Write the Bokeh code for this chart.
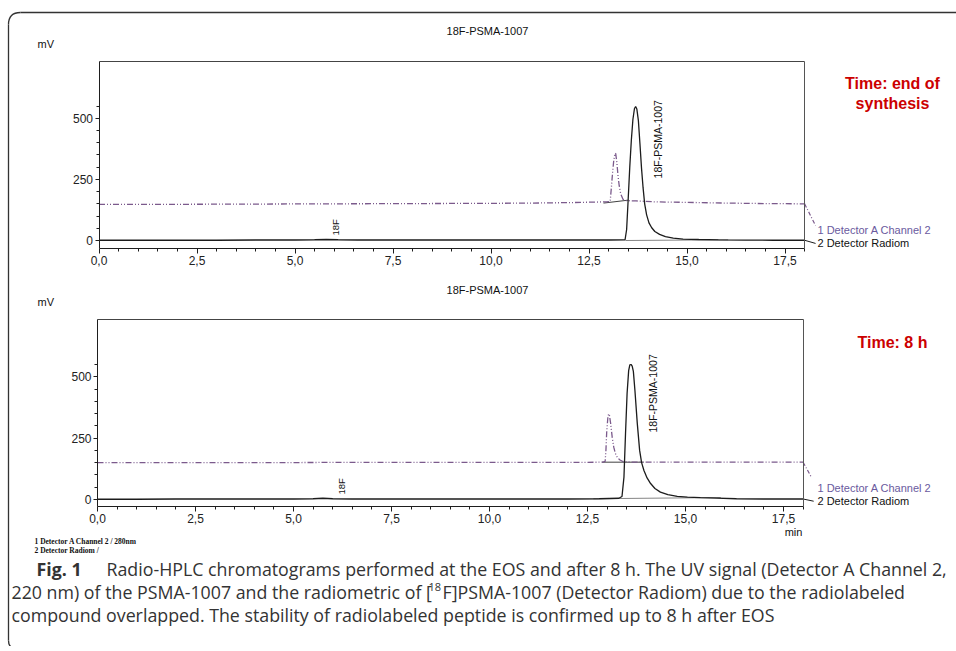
import math
from bokeh.plotting import figure
from bokeh.models import Range1d, LinearAxis, FixedTicker, Label
from bokeh.embed import file_html
from bokeh.resources import INLINE

# ---------------- data ----------------
x_ticks = [0.0, 2.5, 5.0, 7.5, 10.0, 12.5, 15.0, 17.5]
x_tick_labels = ["0,0", "2,5", "5,0", "7,5", "10,0", "12,5", "15,0", "17,5"]
x_minor_ticks = [0.5, 1.0, 1.5, 2.0, 3.0, 3.5, 4.0, 4.5, 5.5, 6.0, 6.5, 7.0, 8.0, 8.5,
                 9.0, 9.5, 10.5, 11.0, 11.5, 12.0, 13.0, 13.5, 14.0, 14.5, 15.5, 16.0,
                 16.5, 17.0, 18.0]
y_ticks = [0, 250, 500]
y_tick_labels = ["0", "250", "500"]
y_minor_ticks = [50, 100, 150, 200, 300, 350, 400, 450, 550]

# Panel A - end of synthesis: radiometric detector (black)
eos_rad_t = [0.0, 1.0, 2.0, 3.0, 4.0, 5.0, 5.5, 5.8, 6.1, 6.6, 8.0, 10.0, 12.0, 13.0,
             13.42, 13.46, 13.50, 13.54, 13.58, 13.62, 13.66, 13.69, 13.72, 13.76,
             13.80, 13.84, 13.88, 13.92, 13.97, 14.03, 14.10, 14.18, 14.30, 14.45,
             14.65, 14.90, 15.30, 15.80, 16.50, 17.20, 18.0]
eos_rad_v = [1, 1, 1, 1, 2, 2, 3, 4, 3, 2, 2, 2, 2, 2,
             3, 45, 170, 300, 410, 495, 540, 548, 538, 490,
             395, 295, 215, 150, 105, 72, 52, 37, 25, 16,
             10, 6, 4, 2.5, 1.5, 1, 1]
# Panel A - UV detector A channel 2 (purple dash-dot)
eos_uv_t = [0.0, 2.0, 4.0, 6.0, 8.0, 10.0, 11.0, 12.0, 12.6, 12.95, 13.04, 13.07, 13.10,
            13.13, 13.16, 13.18, 13.21, 13.24, 13.27, 13.31, 13.37, 13.45, 13.7, 14.2,
            15.0, 16.0, 17.0, 18.0]
eos_uv_v = [148, 148, 149, 150, 151, 152, 153, 155, 157, 158, 160, 215, 275,
            325, 355, 357, 320, 265, 225, 190, 168, 163, 162, 158,
            156, 153, 151, 150]
# Panel A - integration baselines
eos_uv_base_t = [12.87, 13.50]
eos_uv_base_v = [153, 165]
eos_rad_base_t = [13.43, 16.05]
eos_rad_base_v = [0, 3]

# Panel B - after 8 h: radiometric detector
h8_rad_t = [0.0, 1.0, 2.0, 3.0, 4.0, 5.0, 5.5, 5.75, 6.0, 6.5, 8.0, 10.0, 12.0, 12.8,
            13.30, 13.38, 13.43, 13.47, 13.51, 13.55, 13.58, 13.61, 13.64, 13.67,
            13.71, 13.77, 13.83, 13.88, 13.94, 14.02, 14.11, 14.22, 14.36, 14.55,
            14.79, 15.05, 15.38, 15.80, 16.30, 17.0, 18.0]
h8_rad_v = [1, 1, 2, 2, 2, 2, 3, 5, 3, 2, 2, 2, 2, 3,
            5, 12, 91, 269, 432, 525, 548, 550, 543, 522,
            444, 310, 200, 150, 118, 88, 65, 45, 30, 20,
            13, 10, 8, 6, 3, 2, 2]
# Panel B - UV detector
h8_uv_t = [0.0, 2.0, 4.0, 6.0, 8.0, 10.0, 12.0, 12.90, 12.95, 12.97, 12.99, 13.02, 13.04,
           13.06, 13.09, 13.13, 13.17, 13.21, 13.26, 13.32, 13.40, 13.60, 14.50, 16.0,
           17.0, 18.0]
h8_uv_v = [150, 150, 150, 151, 151, 151, 151, 152, 155, 200, 275, 335, 349,
           343, 310, 254, 213, 188, 172, 162, 155, 152, 152, 152,
           152, 152]
h8_uv_base_t = [12.87, 13.93]
h8_uv_base_v = [152, 152]
h8_rad_base_t = [12.65, 15.90]
h8_rad_base_v = [3, 8]

# texts
panel_title = "18F-PSMA-1007"
y_unit = "mV"
x_unit = "min"
series_names = ["1 Detector A Channel 2", "2 Detector Radiom"]
peak_names = ["18F", "18F-PSMA-1007"]
time_labels_a = ["Time: end of", "synthesis"]
time_label_b = "Time: 8 h"
footnotes = ["1  Detector A Channel 2 / 280nm", "2  Detector Radiom /"]
cap1_bold = "Fig. 1"
cap1_rest = "Radio-HPLC chromatograms performed at the EOS and after 8 h. The UV signal (Detector A Channel 2,"
cap2_a = "220 nm) of the PSMA-1007 and the radiometric of ["
cap2_sup = "18"
cap2_b = "F]PSMA-1007 (Detector Radiom) due to the radiolabeled"
cap3 = "compound overlapped. The stability of radiolabeled peptide is confirmed up to 8 h after EOS"

# ---------------- figure (one canvas, pixel coordinates for layout) ----------------
W, H = 956, 646
p = figure(width=W, height=H, x_range=Range1d(0, W), y_range=Range1d(H, 0),
           x_axis_type=None, y_axis_type=None, toolbar_location=None,
           output_backend="svg", min_border=0)
p.outline_line_color = None
p.background_fill_color = "white"
p.border_fill_color = "white"

SCALE_T = 39.2  # px per minute
UV_COLOR = "#7b5a8c"
UV_TEXT = "#6a5a9e"
RAD_COLOR = "#1c1c1c"
AX = "#1e1e1e"
FONT = "Liberation Sans"

panels = [
    dict(key="a", x0=98.5, y0=240.0, sy=0.2445, vmin=-32.7, vmax=732.0,
         rad=(eos_rad_t, eos_rad_v), uv=(eos_uv_t, eos_uv_v),
         uvb=(eos_uv_base_t, eos_uv_base_v), radb=(eos_rad_base_t, eos_rad_base_v),
         f18=(6.03, 20), psma=(14.25, 254),
         lead_uv=(18.28, 61), lead_rad=(18.28, -12),
         lab_y=(229, 242.5), title_y=30, mv_y=43),
    dict(key="b", x0=97.0, y0=499.0, sy=0.2455, vmin=-28.5, vmax=733.0,
         rad=(h8_rad_t, h8_rad_v), uv=(h8_uv_t, h8_uv_v),
         uvb=(h8_uv_base_t, h8_uv_base_v), radb=(h8_rad_base_t, h8_rad_base_v),
         f18=(6.22, 20), psma=(14.18, 273),
         lead_uv=(18.21, 91), lead_rad=(18.27, -7),
         lab_y=(487, 500.5), title_y=289, mv_y=301),
]

ex, ey = {}, {}
for pn in panels:
    ex["t" + pn["key"]] = Range1d(-pn["x0"] / SCALE_T, (W - pn["x0"]) / SCALE_T)
    ey["v" + pn["key"]] = Range1d((pn["y0"] - H) / pn["sy"], pn["y0"] / pn["sy"])
p.extra_x_ranges = ex
p.extra_y_ranges = ey


def style_axis(ax):
    ax.axis_line_color = AX
    ax.axis_line_width = 1
    ax.major_tick_line_color = AX
    ax.minor_tick_line_color = AX
    ax.major_tick_in = 0
    ax.minor_tick_in = 0
    ax.major_label_text_font = FONT
    ax.major_label_text_font_size = "12px"
    ax.major_label_text_color = "#222222"


for pn in panels:
    tn, vn = "t" + pn["key"], "v" + pn["key"]
    vmin, vmax = pn["vmin"], pn["vmax"]

    xax = LinearAxis(x_range_name=tn, y_range_name=vn, fixed_location=vmin, bounds=(0, 18),
                     ticker=FixedTicker(ticks=x_ticks, minor_ticks=x_minor_ticks),
                     major_label_overrides=dict(zip(x_ticks, x_tick_labels)))
    style_axis(xax)
    xax.major_tick_out = 5
    xax.minor_tick_out = 3
    xax.major_label_standoff = 3
    p.add_layout(xax, "below")

    yax = LinearAxis(x_range_name=tn, y_range_name=vn, fixed_location=0, bounds=(vmin, vmax),
                     ticker=FixedTicker(ticks=y_ticks, minor_ticks=y_minor_ticks),
                     major_label_overrides=dict(zip(y_ticks, y_tick_labels)))
    style_axis(yax)
    yax.major_tick_out = 4
    yax.minor_tick_out = 3
    yax.major_label_standoff = 2
    p.add_layout(yax, "left")

    # frame: top and right edges
    tax = LinearAxis(x_range_name=tn, y_range_name=vn, fixed_location=vmax, bounds=(0, 18),
                     ticker=FixedTicker(ticks=[], minor_ticks=[]))
    style_axis(tax)
    tax.axis_line_color = "#444444"
    tax.major_tick_out = 0
    tax.minor_tick_out = 0
    tax.major_label_text_font_size = "0px"
    p.add_layout(tax, "above")
    rax = LinearAxis(x_range_name=tn, y_range_name=vn, fixed_location=18, bounds=(vmin, vmax),
                     ticker=FixedTicker(ticks=[], minor_ticks=[]))
    style_axis(rax)
    rax.axis_line_color = "#555555"
    rax.major_tick_out = 0
    rax.minor_tick_out = 0
    rax.major_label_text_font_size = "0px"
    p.add_layout(rax, "right")

    # integration baselines
    p.line(pn["uvb"][0], pn["uvb"][1], x_range_name=tn, y_range_name=vn,
           line_color="#2a2a2a", line_width=0.9)
    p.line(pn["radb"][0], pn["radb"][1], x_range_name=tn, y_range_name=vn,
           line_color="#777777", line_width=0.9)

    # traces
    uv_t, uv_v = pn["uv"]
    rad_t, rad_v = pn["rad"]
    p.line(uv_t, uv_v, x_range_name=tn, y_range_name=vn, line_color=UV_COLOR,
           line_width=1.3, line_dash="6 2 1 2 1 2")
    p.line(rad_t, rad_v, x_range_name=tn, y_range_name=vn, line_color=RAD_COLOR,
           line_width=1.3)

    # leaders to the series labels
    p.line([uv_t[-1], pn["lead_uv"][0]], [uv_v[-1], pn["lead_uv"][1]],
           x_range_name=tn, y_range_name=vn, line_color=UV_COLOR, line_width=1.2,
           line_dash="4 2 1 2")
    p.line([rad_t[-1], pn["lead_rad"][0]], [rad_v[-1], pn["lead_rad"][1]],
           x_range_name=tn, y_range_name=vn, line_color=RAD_COLOR, line_width=1.0)

    # peak labels
    p.add_layout(Label(x=pn["f18"][0], y=pn["f18"][1], x_range_name=tn, y_range_name=vn,
                       text=peak_names[0], angle=math.pi / 2, text_align="left",
                       text_baseline="middle", text_font=FONT, text_font_size="9.5px",
                       text_color="#111111"))
    p.add_layout(Label(x=pn["psma"][0], y=pn["psma"][1], x_range_name=tn, y_range_name=vn,
                       text=peak_names[1], angle=math.pi / 2, text_align="left",
                       text_baseline="middle", text_font=FONT, text_font_size="10.5px",
                       text_color="#111111"))

    # series labels
    p.add_layout(Label(x=817, y=pn["lab_y"][0], text=series_names[0], text_align="left",
                       text_baseline="middle", text_font=FONT, text_font_size="11px",
                       text_color=UV_TEXT))
    p.add_layout(Label(x=817, y=pn["lab_y"][1], text=series_names[1], text_align="left",
                       text_baseline="middle", text_font=FONT, text_font_size="11px",
                       text_color="#111111"))

    # title and unit
    p.add_layout(Label(x=487, y=pn["title_y"], text=panel_title, text_align="center",
                       text_baseline="middle", text_font=FONT, text_font_size="11px",
                       text_color="#111111"))
    p.add_layout(Label(x=37, y=pn["mv_y"], text=y_unit, text_align="left",
                       text_baseline="middle", text_font=FONT, text_font_size="11px",
                       text_color="#111111"))

# x unit under the second panel
p.add_layout(Label(x=793, y=531.5, text=x_unit, text_align="center", text_baseline="middle",
                   text_font=FONT, text_font_size="11px", text_color="#111111"))

# red time labels
RED = "#cc0000"
for txt, yy in zip(time_labels_a, [83, 103]):
    p.add_layout(Label(x=892, y=yy, text=txt, text_align="center", text_baseline="middle",
                       text_font=FONT, text_font_size="16px", text_font_style="bold",
                       text_color=RED))
p.add_layout(Label(x=892, y=342, text=time_label_b, text_align="center",
                   text_baseline="middle", text_font=FONT, text_font_size="16px",
                   text_font_style="bold", text_color=RED))

# footnotes
for txt, yy in zip(footnotes, [541, 549.5]):
    p.add_layout(Label(x=34, y=yy, text=txt, text_align="left", text_baseline="middle",
                       text_font="Liberation Serif", text_font_size="7.5px",
                       text_font_style="bold", text_color="#111111"))

# caption
CAP = "Open Sans"
CAPC = "#333333"
CS = "17.8px"
p.add_layout(Label(x=36, y=568, text=cap1_bold, text_align="left", text_baseline="middle",
                   text_font=CAP, text_font_size=CS, text_font_style="bold", text_color=CAPC))
p.add_layout(Label(x=106, y=568, text=cap1_rest, text_align="left", text_baseline="middle",
                   text_font=CAP, text_font_size=CS, text_color=CAPC))
p.add_layout(Label(x=11, y=591, text=cap2_a, text_align="left", text_baseline="middle",
                   text_font=CAP, text_font_size=CS, text_color=CAPC))
p.add_layout(Label(x=428, y=586, text=cap2_sup, text_align="left", text_baseline="middle",
                   text_font=CAP, text_font_size="11px", text_color=CAPC))
p.add_layout(Label(x=442, y=591, text=cap2_b, text_align="left", text_baseline="middle",
                   text_font=CAP, text_font_size=CS, text_color=CAPC))
p.add_layout(Label(x=11, y=614, text=cap3, text_align="left", text_baseline="middle",
                   text_font=CAP, text_font_size=CS, text_color=CAPC))

# rounded frame (top and left edges)
BC = "#333333"
p.line([8, 8], [640, 24], line_color=BC, line_width=1.3)
p.quadratic(x0=8, y0=24, x1=20, y1=12, cx=8, cy=12, line_color=BC, line_width=1.3)
p.line([20, W], [12, 12], line_color=BC, line_width=1.3)
p.quadratic(x0=8, y0=640, x1=16, y1=648, cx=8, cy=648, line_color=BC, line_width=1.3)

open("out.html", "w").write(file_html(p, INLINE))
